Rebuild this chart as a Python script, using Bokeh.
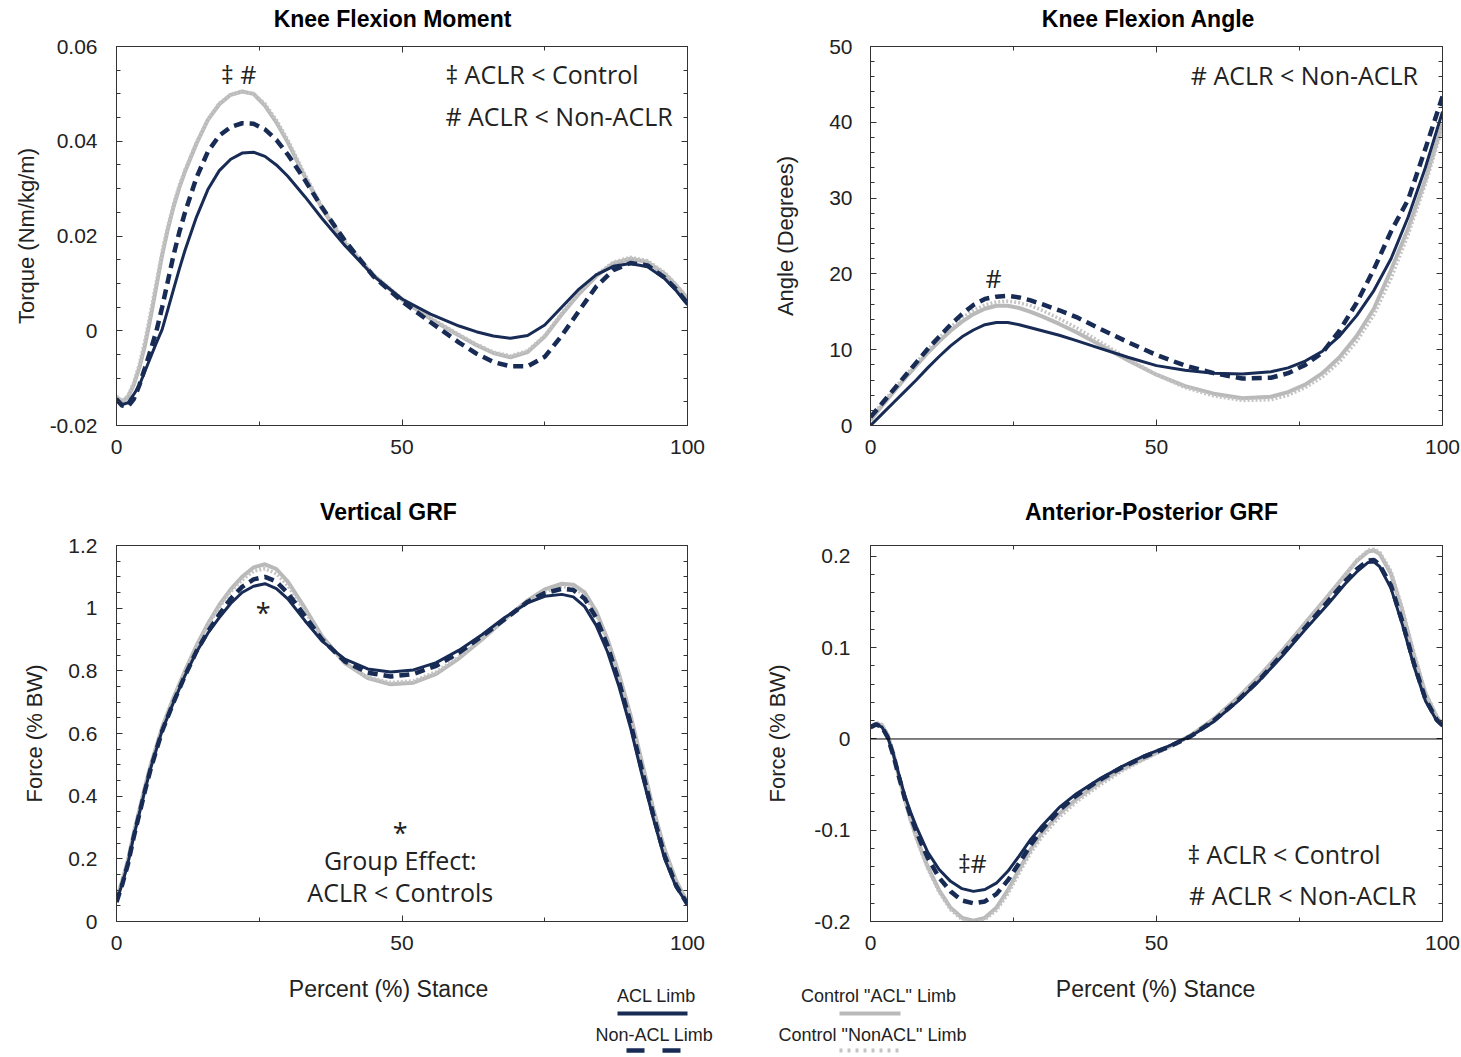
from bokeh.plotting import figure
from bokeh.models import FixedTicker, LinearAxis, Range1d, Label, Span
from bokeh.layouts import column, row
from bokeh.embed import file_html
from bokeh.resources import INLINE
from bokeh.core.properties import value

# ---------------- data ----------------
TITLES = ["Knee Flexion Moment", "Knee Flexion Angle", "Vertical GRF", "Anterior-Posterior GRF"]
SERIES = ["ACL Limb", "Non-ACL Limb", 'Control "ACL" Limb', 'Control "NonACL" Limb']
X_LABEL = "Percent (%) Stance"

# Knee Flexion Moment
KFM_X = [0, 1, 2, 3, 4, 5, 6, 7, 8, 9, 10, 11, 12, 14, 16, 18, 20, 22, 24, 26, 28, 30, 33, 36, 40,
         45, 50, 55, 60, 63, 66, 69, 72, 75, 78, 81, 84, 87, 90, 93, 96, 98, 100]
KFM_ACL = [-0.0143, -0.0156, -0.0152, -0.0135, -0.0115, -0.0085, -0.0055, -0.0025, 0.0003, 0.0045,
           0.0088, 0.0130, 0.0170, 0.0240, 0.0298, 0.0338, 0.0362, 0.0375, 0.0377, 0.0368, 0.0350,
           0.0326, 0.0283, 0.0237, 0.0180, 0.0116, 0.0067, 0.0035, 0.0010, -0.0002, -0.0011,
           -0.0016, -0.0010, 0.0012, 0.0050, 0.0088, 0.0118, 0.0136, 0.0142, 0.0135, 0.0110,
           0.0085, 0.0055]
KFM_NONACL = [-0.0145, -0.0158, -0.0160, -0.0145, -0.0115, -0.0078, -0.0040, 0.0000, 0.0050, 0.0105,
              0.0160, 0.0208, 0.0250, 0.0323, 0.0378, 0.0412, 0.0430, 0.0438, 0.0437, 0.0425, 0.0403,
              0.0372, 0.0318, 0.0260, 0.0190, 0.0115, 0.0062, 0.0018, -0.0025, -0.0048, -0.0066,
              -0.0075, -0.0075, -0.0055, -0.0010, 0.0042, 0.0093, 0.0128, 0.0143, 0.0138, 0.0112,
              0.0088, 0.0058]
KFM_CTRL_ACL = [-0.0140, -0.0150, -0.0140, -0.0115, -0.0078, -0.0030, 0.0030, 0.0095, 0.0160, 0.0215,
                0.0262, 0.0302, 0.0336, 0.0395, 0.0445, 0.0478, 0.0498, 0.0505, 0.0500, 0.0475, 0.0440,
                0.0398, 0.0325, 0.0258, 0.0185, 0.0117, 0.0066, 0.0025, -0.0010, -0.0030, -0.0047,
                -0.0056, -0.0045, -0.0012, 0.0035, 0.0078, 0.0115, 0.0142, 0.0152, 0.0145, 0.0120,
                0.0096, 0.0068]
KFM_CTRL_NONACL = [-0.0138, -0.0148, -0.0137, -0.0110, -0.0070, -0.0020, 0.0042, 0.0105, 0.0168, 0.0222,
                   0.0268, 0.0307, 0.0340, 0.0398, 0.0446, 0.0480, 0.0499, 0.0504, 0.0501, 0.0479, 0.0445,
                   0.0403, 0.0330, 0.0262, 0.0189, 0.0119, 0.0068, 0.0027, -0.0008, -0.0028, -0.0045,
                   -0.0053, -0.0042, -0.0010, 0.0038, 0.0081, 0.0118, 0.0145, 0.0155, 0.0148, 0.0123,
                   0.0098, 0.0070]

# Knee Flexion Angle
KFA_X = [0, 2, 4, 6, 8, 10, 12, 14, 16, 18, 20, 22, 24, 26, 28, 30, 33, 36, 40, 45, 50, 55, 60, 65,
         70, 73, 76, 79, 82, 85, 88, 91, 94, 97, 100]
KFA_ACL = [0.0, 1.5, 3.0, 4.5, 6.0, 7.6, 9.1, 10.5, 11.7, 12.6, 13.3, 13.6, 13.6, 13.3, 12.9, 12.5,
           11.9, 11.2, 10.2, 9.0, 7.9, 7.3, 6.9, 6.8, 7.1, 7.6, 8.5, 9.8, 11.8, 14.5, 17.8, 22.0,
           27.5, 34.0, 41.4]
KFA_NONACL = [1.1, 2.9, 4.7, 6.5, 8.3, 10.1, 11.7, 13.3, 14.7, 15.9, 16.7, 17.0, 17.1, 16.9, 16.5, 16.0,
              15.2, 14.3, 12.8, 11.0, 9.3, 7.9, 6.9, 6.2, 6.3, 6.9, 8.0, 9.6, 12.5, 16.2, 20.6, 25.6,
              29.8, 36.5, 43.4]
KFA_CTRL_ACL = [0.7, 2.6, 4.4, 6.2, 7.9, 9.6, 11.1, 12.5, 13.7, 14.7, 15.4, 15.8, 15.8, 15.5, 15.0, 14.4,
                13.4, 12.3, 10.7, 8.6, 6.7, 5.2, 4.2, 3.6, 3.8, 4.4, 5.4, 6.9, 9.0, 11.8, 15.4, 20.5,
                26.0, 32.4, 39.8]
KFA_CTRL_NONACL = [1.0, 2.9, 4.7, 6.5, 8.3, 10.0, 11.6, 13.0, 14.2, 15.2, 15.9, 16.3, 16.4, 16.2, 15.8,
                   15.2, 14.1, 12.9, 11.1, 8.8, 6.7, 5.0, 3.9, 3.3, 3.4, 4.0, 5.0, 6.4, 8.4, 11.1, 14.6,
                   19.4, 25.2, 31.8, 39.3]

# Vertical GRF
VGRF_X = [0, 1, 2, 3, 4, 5, 6, 8, 10, 12, 14, 16, 18, 20, 22, 24, 26, 28, 30, 33, 36, 40, 44, 48, 52,
          56, 60, 64, 68, 72, 75, 78, 80, 82, 84, 86, 88, 90, 92, 94, 96, 98, 100]
VGRF_ACL = [0.064, 0.12, 0.185, 0.27, 0.345, 0.42, 0.49, 0.61, 0.70, 0.785, 0.86, 0.92, 0.97, 1.015,
            1.05, 1.07, 1.078, 1.062, 1.03, 0.96, 0.895, 0.837, 0.806, 0.796, 0.803, 0.826, 0.866,
            0.915, 0.97, 1.017, 1.038, 1.044, 1.036, 1.005, 0.945, 0.86, 0.75, 0.62, 0.47, 0.33,
            0.2, 0.11, 0.055]
VGRF_NONACL = [0.062, 0.118, 0.183, 0.268, 0.343, 0.418, 0.488, 0.608, 0.70, 0.785, 0.862, 0.925, 0.98,
               1.03, 1.068, 1.092, 1.1, 1.085, 1.048, 0.975, 0.9, 0.83, 0.794, 0.782, 0.79, 0.816,
               0.858, 0.91, 0.965, 1.02, 1.048, 1.062, 1.058, 1.03, 0.97, 0.88, 0.765, 0.635, 0.485,
               0.34, 0.21, 0.115, 0.055]
VGRF_CTRL_ACL = [0.07, 0.13, 0.195, 0.28, 0.355, 0.43, 0.50, 0.62, 0.715, 0.80, 0.88, 0.95, 1.01, 1.06,
                 1.10, 1.13, 1.14, 1.125, 1.085, 1.0, 0.91, 0.825, 0.777, 0.757, 0.762, 0.79, 0.84,
                 0.9, 0.965, 1.025, 1.06, 1.078, 1.075, 1.05, 0.99, 0.9, 0.79, 0.66, 0.51, 0.36, 0.23,
                 0.13, 0.06]
VGRF_CTRL_NONACL = [0.068, 0.128, 0.192, 0.277, 0.352, 0.427, 0.497, 0.617, 0.712, 0.797, 0.876, 0.945,
                    1.003, 1.052, 1.09, 1.118, 1.126, 1.11, 1.072, 0.99, 0.905, 0.823, 0.78, 0.763,
                    0.768, 0.797, 0.845, 0.903, 0.963, 1.02, 1.052, 1.068, 1.066, 1.04, 0.98, 0.895,
                    0.785, 0.655, 0.505, 0.355, 0.225, 0.128, 0.062]

# Anterior-Posterior GRF
APGRF_X = [0, 1, 2, 3, 4, 5, 6, 7, 8, 9, 10, 12, 14, 16, 18, 20, 22, 24, 26, 28, 30, 33, 36, 40, 44,
           48, 52, 56, 60, 64, 68, 72, 76, 80, 83, 85, 87, 88, 89, 91, 93, 95, 97, 99, 100]
APGRF_ACL = [0.014, 0.016, 0.013, 0.002, -0.017, -0.040, -0.062, -0.080, -0.096, -0.110, -0.124,
             -0.143, -0.156, -0.164, -0.167, -0.165, -0.158, -0.145, -0.128, -0.110, -0.095, -0.075,
             -0.060, -0.044, -0.030, -0.018, -0.008, 0.003, 0.019, 0.040, 0.064, 0.091, 0.120, 0.148,
             0.170, 0.183, 0.1935, 0.194, 0.189, 0.165, 0.125, 0.080, 0.042, 0.020, 0.014]
APGRF_NONACL = [0.013, 0.016, 0.013, 0.002, -0.018, -0.042, -0.065, -0.084, -0.101, -0.116, -0.130,
                -0.152, -0.167, -0.177, -0.180, -0.178, -0.170, -0.155, -0.136, -0.116, -0.099, -0.078,
                -0.062, -0.045, -0.031, -0.019, -0.009, 0.003, 0.020, 0.041, 0.065, 0.093, 0.122,
                0.151, 0.173, 0.186, 0.1955, 0.196, 0.191, 0.168, 0.128, 0.083, 0.044, 0.021, 0.015]
APGRF_CTRL_ACL = [0.012, 0.017, 0.015, 0.004, -0.016, -0.042, -0.066, -0.088, -0.107, -0.124, -0.140,
                  -0.166, -0.185, -0.196, -0.199, -0.196, -0.185, -0.166, -0.143, -0.121, -0.103,
                  -0.082, -0.066, -0.048, -0.033, -0.021, -0.009, 0.004, 0.022, 0.044, 0.069, 0.097,
                  0.127, 0.157, 0.180, 0.195, 0.2055, 0.2065, 0.203, 0.181, 0.140, 0.092, 0.050, 0.024,
                  0.016]
APGRF_CTRL_NONACL = [0.013, 0.018, 0.016, 0.005, -0.015, -0.041, -0.066, -0.089, -0.109, -0.126, -0.142,
                     -0.168, -0.187, -0.198, -0.201, -0.198, -0.188, -0.170, -0.147, -0.125, -0.107,
                     -0.086, -0.069, -0.051, -0.035, -0.022, -0.010, 0.003, 0.021, 0.043, 0.068, 0.096,
                     0.126, 0.156, 0.180, 0.196, 0.207, 0.208, 0.205, 0.184, 0.143, 0.095, 0.052,
                     0.025, 0.017]

# ticks
X_TICKS = [0, 50, 100]
X_TICK_LABELS = ["0", "50", "100"]
X_MINOR = [25, 75]
KFM_YTICKS = [-0.02, 0, 0.02, 0.04, 0.06]
KFM_YLABELS = ["-0.02", "0", "0.02", "0.04", "0.06"]
KFM_YMINOR = [-0.015, -0.01, -0.005, 0.005, 0.01, 0.015, 0.025, 0.03, 0.035, 0.045, 0.05, 0.055]
KFA_YTICKS = [0, 10, 20, 30, 40, 50]
KFA_YLABELS = ["0", "10", "20", "30", "40", "50"]
KFA_YMINOR = [2, 4, 6, 8, 12, 14, 16, 18, 22, 24, 26, 28, 32, 34, 36, 38, 42, 44, 46, 48]
VGRF_YTICKS = [0, 0.2, 0.4, 0.6, 0.8, 1.0, 1.2]
VGRF_YLABELS = ["0", "0.2", "0.4", "0.6", "0.8", "1", "1.2"]
VGRF_YMINOR = [0.05, 0.1, 0.15, 0.25, 0.3, 0.35, 0.45, 0.5, 0.55, 0.65, 0.7, 0.75, 0.85, 0.9, 0.95,
               1.05, 1.1, 1.15]
AP_YTICKS = [-0.2, -0.1, 0, 0.1, 0.2]
AP_YLABELS = ["-0.2", "-0.1", "0", "0.1", "0.2"]
AP_YMINOR = [-0.18, -0.16, -0.14, -0.12, -0.08, -0.06, -0.04, -0.02, 0.02, 0.04, 0.06, 0.08,
             0.12, 0.14, 0.16, 0.18]

# ---------------- style ----------------
NAVY = "#172b55"
GRAY = "#b9b9b9"
GRAY_DOT = "#c4c4c4"
AXC = "#333333"
TXT = "#222222"
SANS = "Liberation Sans"
ANN = "Open Sans"
PAGE_W = 1460


def style_axis(ax, labels=True, ticks=None, tick_labels=None, minor=None, std=12):
    ax.ticker = FixedTicker(ticks=ticks, minor_ticks=minor)
    ax.axis_line_color = AXC
    ax.axis_line_width = 1
    ax.major_tick_line_color = AXC
    ax.minor_tick_line_color = AXC
    ax.major_tick_in = 6
    ax.major_tick_out = 0
    ax.minor_tick_in = 4
    ax.minor_tick_out = 0
    if labels:
        ax.major_label_overrides = dict(zip(ticks, tick_labels))
        ax.major_label_text_font = SANS
        ax.major_label_text_font_size = "21px"
        ax.major_label_text_color = TXT
        ax.major_label_standoff = std
        ax.axis_label_text_font = SANS
        ax.axis_label_text_font_size = "22px"
        ax.axis_label_text_font_style = "normal"
        ax.axis_label_text_color = TXT
    else:
        ax.major_label_text_font_size = "1px"
        ax.major_label_text_alpha = 0
        ax.major_label_standoff = 0


def make_panel(w, h, borders, yr, yticks, ylabels, yminor, ylabel, ystd, ylab_std):
    left, right, top, bottom = borders
    p = figure(width=w, height=h, x_range=Range1d(0, 100), y_range=Range1d(*yr),
               output_backend="svg", toolbar_location=None,
               min_border_left=left, min_border_right=right, min_border_top=top,
               min_border_bottom=bottom)
    p.xgrid.visible = False
    p.ygrid.visible = False
    p.outline_line_color = AXC
    p.background_fill_color = "white"
    p.border_fill_color = "white"

    style_axis(p.xaxis[0], True, X_TICKS, X_TICK_LABELS, X_MINOR, 14)
    style_axis(p.yaxis[0], True, yticks, ylabels, yminor, ystd)
    p.yaxis[0].axis_label = ylabel
    p.yaxis[0].axis_label_standoff = ylab_std

    top_ax = LinearAxis()
    style_axis(top_ax, False, X_TICKS, None, X_MINOR)
    p.add_layout(top_ax, "above")
    right_ax = LinearAxis()
    style_axis(right_ax, False, yticks, None, yminor)
    p.add_layout(right_ax, "right")
    return p


def make_strip(h):
    s = figure(width=PAGE_W, height=h, x_range=Range1d(0, PAGE_W), y_range=Range1d(h, 0),
               x_axis_type=None, y_axis_type=None, output_backend="svg",
               toolbar_location=None, min_border=0)
    s.outline_line_color = None
    s.background_fill_color = "white"
    s.border_fill_color = "white"
    return s


def draw_series(p, x, acl, nonacl, cacl, cnon):
    p.line(x, cacl, line_color=GRAY, line_width=4)
    p.line(x, cnon, line_color=GRAY_DOT, line_width=3.5, line_dash="2 2")
    p.line(x, acl, line_color=NAVY, line_width=3)
    p.line(x, nonacl, line_color=NAVY, line_width=4.5, line_dash="10 6")


def ann(p, x, y, text, align="left", size="25px"):
    p.add_layout(Label(x=x, y=y, text=text, text_font=ANN, text_font_size=size,
                       text_color=TXT, text_align=align, text_baseline="middle"))


def titles(s, xs, y, texts):
    s.text(x=xs, y=[y] * len(xs), text=texts, text_font=value(SANS), text_font_size="23px",
           text_font_style="bold", text_color="black", text_align="center",
           text_baseline="middle")


# ---------------- top titles ----------------
top_strip = make_strip(34)
titles(top_strip, [392, 1148], 18, TITLES[:2])

# ---------------- panels ----------------
tl = make_panel(730, 436, (116, 43, 12, 45), (-0.02, 0.06),
                KFM_YTICKS, KFM_YLABELS, KFM_YMINOR, "Torque (Nm/kg/m)", 19, 8)
draw_series(tl, KFM_X, KFM_ACL, KFM_NONACL, KFM_CTRL_ACL, KFM_CTRL_NONACL)
ann(tl, 21.4, 0.0541, "\u2021 #", "center")
ann(tl, 57.6, 0.0541, "\u2021 ACLR < Control")
ann(tl, 57.6, 0.0454, "# ACLR < Non-ACLR")

tr = make_panel(730, 436, (140, 18, 12, 45), (0, 50),
                KFA_YTICKS, KFA_YLABELS, KFA_YMINOR, "Angle (Degrees)", 18, 28)
draw_series(tr, KFA_X, KFA_ACL, KFA_NONACL, KFA_CTRL_ACL, KFA_CTRL_NONACL)
ann(tr, 56.0, 46.2, "# ACLR < Non-ACLR")
ann(tr, 21.5, 19.5, "#", "center")

mid_strip = make_strip(60)
titles(mid_strip, [388, 1151], 41, TITLES[2:])

bl = make_panel(730, 432, (116, 43, 15, 41), (0, 1.2),
                VGRF_YTICKS, VGRF_YLABELS, VGRF_YMINOR, "Force (% BW)", 19, 18)
draw_series(bl, VGRF_X, VGRF_ACL, VGRF_NONACL, VGRF_CTRL_ACL, VGRF_CTRL_NONACL)
ann(bl, 25.7, 0.985, "*", "center", "27px")
ann(bl, 49.7, 0.285, "*", "center", "27px")
ann(bl, 49.7, 0.195, "Group Effect:", "center")
ann(bl, 49.7, 0.093, "ACLR < Controls", "center")

br = make_panel(730, 432, (140, 18, 15, 41), (-0.2, 0.212),
                AP_YTICKS, AP_YLABELS, AP_YMINOR, "Force (% BW)", 20, 21)
br.add_layout(Span(location=0, dimension="width", line_color="black", line_width=1))
draw_series(br, APGRF_X, APGRF_ACL, APGRF_NONACL, APGRF_CTRL_ACL, APGRF_CTRL_NONACL)
ann(br, 17.8, -0.136, "\u2021#", "center")
ann(br, 55.4, -0.126, "\u2021 ACLR < Control")
ann(br, 55.7, -0.171, "# ACLR < Non-ACLR")

# ---------------- bottom strip: shared x-axis titles and legend ----------------
strip = make_strip(94)
strip.text(x=[388, 1155], y=[26, 26], text=[X_LABEL, X_LABEL], text_font=value(SANS),
           text_font_size="23px", text_color=TXT, text_align="center", text_baseline="middle")
strip.text(x=[656, 654, 878, 872], y=[33, 72, 33, 72], text=SERIES, text_font=value(SANS),
           text_font_size="18px", text_color=TXT, text_align="center", text_baseline="middle")
strip.segment(x0=[617], y0=[51], x1=[687], y1=[51], line_color=NAVY, line_width=4)
strip.segment(x0=[626], y0=[88], x1=[680], y1=[88], line_color=NAVY, line_width=4.5,
              line_dash="18 18")
strip.segment(x0=[839], y0=[51], x1=[900], y1=[51], line_color=GRAY, line_width=4)
strip.segment(x0=[839], y0=[88], x1=[900], y1=[88], line_color=GRAY_DOT, line_width=4,
              line_dash="3 5")

layout = column(top_strip, row(tl, tr, spacing=0), mid_strip, row(bl, br, spacing=0), strip,
                spacing=0)
open("out.html", "w").write(file_html(layout, INLINE))
